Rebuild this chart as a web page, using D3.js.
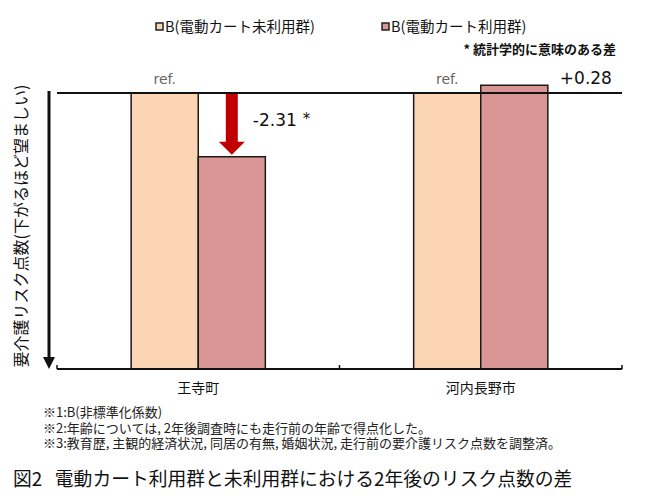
<!DOCTYPE html>
<html>
<head>
<meta charset="utf-8">
<script src="https://cdn.jsdelivr.net/npm/d3@7"></script>
<style>
	body { margin: 0; background: #fff; }
	text { font-family: "Noto Sans CJK JP", "Noto Sans", sans-serif; fill: #111; white-space: pre; }
	.num { font-family: "DejaVu Sans", sans-serif; }
</style>
</head>
<body>
<div id="chart"></div>
<script>
(function () {
	"use strict";

	var categories = ['王寺町', '河内長野市'];
	var seriesNames = ['B(電動カート未利用群)', 'B(電動カート利用群)'];
	var seriesColors = ['#fcd5b4', '#d99694'];
	var nonUserValues = [0, 0];
	var userValues = [-2.31, 0.28];
	var refLabels = ['ref.', 'ref.'];
	var diffLabels = ['-2.31', '+0.28'];
	var significant = [true, false];
	var notes = [
		'※1:B(非標準化係数)',
		'※2:年齢については, 2年後調査時にも走行前の年齢で得点化した。',
		'※3:教育歴, 主観的経済状況, 同居の有無, 婚姻状況, 走行前の要介護リスク点数を調整済。'
	];
	var title = '図2\u00a0\u00a0\u00a0電動カート利用群と未利用群における2年後のリスク点数の差';
	var yLabel = '要介護リスク点数(下がるほど望ましい)';
	var sigNote = '* 統計学的に意味のある差';

	var width = 649, height = 502;
	var left = 57, right = 622, zeroY = 93, bottomY = 369;

	var svg = d3.select('#chart').append('svg')
		.attr('width', width)
		.attr('height', height);

	var y = d3.scaleLinear().domain([-10, 0]).range([bottomY, zeroY]);
	var x0 = d3.scaleBand().domain(categories).range([left, right]);
	var groupW = x0.bandwidth() * 0.475;
	var x1 = d3.scaleBand().domain([0, 1])
		.range([(x0.bandwidth() - groupW) / 2, (x0.bandwidth() + groupW) / 2]);

	var rows = categories.map(function (c, i) {
		return { cat: c, vals: [nonUserValues[i], userValues[i]], i: i };
	});

	// bars grow up from the bottom of the axis
	var groups = svg.selectAll('.grp').data(rows).enter().append('g')
		.attr('transform', function (d) { return 'translate(' + x0(d.cat) + ',0)'; });

	groups.selectAll('rect')
		.data(function (d) { return d.vals.map(function (v, k) { return { v: v, k: k }; }); })
		.enter().append('rect')
		.attr('x', function (d) { return x1(d.k); })
		.attr('width', x1.bandwidth())
		.attr('y', function (d) { return y(d.v); })
		.attr('height', function (d) { return y(-10) - y(d.v); })
		.attr('fill', function (d) { return seriesColors[d.k]; })
		.attr('stroke', '#1a1a1a')
		.attr('stroke-width', 1.5);

	// zero reference line
	svg.append('line')
		.attr('x1', left).attr('x2', right)
		.attr('y1', y(0)).attr('y2', y(0))
		.attr('stroke', '#111').attr('stroke-width', 1.8);

	// bottom category axis, ticks pointing up
	var xAxis = d3.axisBottom(x0).tickSize(0).tickPadding(14);
	var ax = svg.append('g')
		.attr('transform', 'translate(0,' + bottomY + ')')
		.call(xAxis);
	ax.select('.domain').remove();
	ax.append('line')
		.attr('x1', left).attr('x2', right)
		.attr('stroke', '#111').attr('stroke-width', 2);
	ax.selectAll('.edge').data([left, left + x0.bandwidth(), right]).enter().append('line')
		.attr('x1', function (d) { return d; }).attr('x2', function (d) { return d; })
		.attr('y1', -4).attr('y2', 0)
		.attr('stroke', '#111').attr('stroke-width', 1.5);
	ax.selectAll('.tick text')
		.style('font-family', '"Noto Sans CJK JP", sans-serif')
		.style('font-size', '14px')
		.attr('fill', '#111');

	// ref. labels
	groups.append('text')
		.attr('class', 'num')
		.attr('x', x1(0) + x1.bandwidth() / 2)
		.attr('y', y(0) - 9)
		.attr('text-anchor', 'middle')
		.style('font-size', '14px')
		.style('fill', '#666')
		.text(function (d) { return refLabels[d.i]; });

	// decrease arrow for significant drops
	var arrowed = groups.filter(function (d) { return d.vals[1] < 0; });
	arrowed.append('path')
		.attr('fill', '#c00000')
		.attr('d', function (d) {
			var cx = x1(1) + x1.bandwidth() / 2;
			var top = y(0), tip = y(d.vals[1]) - 2, headTop = tip - 13;
			return 'M' + (cx - 6) + ',' + top + 'H' + (cx + 6) + 'V' + headTop +
				'H' + (cx + 13) + 'L' + cx + ',' + tip + 'L' + (cx - 13) + ',' + headTop +
				'H' + (cx - 6) + 'Z';
		});

	// difference labels
	var diff = groups.append('text')
		.attr('class', 'num')
		.style('font-size', '17px')
		.attr('x', function (d) {
			return d.vals[1] < 0 ? x1(1) + x1.bandwidth() / 2 + 21 : x1(1) + x1.bandwidth() + 12;
		})
		.attr('y', function (d) {
			return d.vals[1] < 0 ? y(0) + 33 : y(0) - 9;
		});
	diff.append('tspan').text(function (d) { return diffLabels[d.i]; });
	diff.filter(function (d) { return significant[d.i]; })
		.append('tspan').attr('dx', 6).attr('dy', -2)
		.style('font-size', '15px')
		.text('*');

	// y axis arrow and label
	svg.append('line')
		.attr('x1', 49).attr('x2', 49)
		.attr('y1', 91).attr('y2', bottomY - 10)
		.attr('stroke', '#111').attr('stroke-width', 3);
	svg.append('path')
		.attr('fill', '#111')
		.attr('d', 'M43,' + (bottomY - 12) + 'H55L49,' + bottomY + 'Z');
	svg.append('text')
		.attr('transform', 'translate(27,226) rotate(-90)')
		.attr('text-anchor', 'middle')
		.style('font-size', '16px')
		.text(yLabel);

	// legend
	var legend = svg.selectAll('.leg').data(seriesNames).enter().append('g')
		.attr('transform', function (d, i) { return 'translate(' + [156, 382][i] + ',27)'; });
	legend.append('rect')
		.attr('x', 0).attr('y', -4).attr('width', 7).attr('height', 7)
		.attr('fill', function (d, i) { return seriesColors[i]; })
		.attr('stroke', '#222').attr('stroke-width', 1.5);
	legend.append('text')
		.attr('x', 9).attr('y', 5)
		.style('font-size', '14.5px')
		.text(function (d) { return d; });

	svg.append('text')
		.attr('x', 616).attr('y', 54)
		.attr('text-anchor', 'end')
		.style('font-size', '13px')
		.style('font-weight', 'bold')
		.text(sigNote);

	// footnotes as one block, then the title
	svg.append('text')
		.style('font-size', '13px')
		.style('fill', '#222')
		.selectAll('tspan').data(notes).enter().append('tspan')
		.attr('x', 43)
		.attr('y', function (d, i) { return 417 + i * 15.5; })
		.text(function (d) { return d; });

	svg.append('text')
		.attr('x', 13).attr('y', 486)
		.style('font-size', '18.8px')
		.text(title);
}());
</script>
</body>
</html>
